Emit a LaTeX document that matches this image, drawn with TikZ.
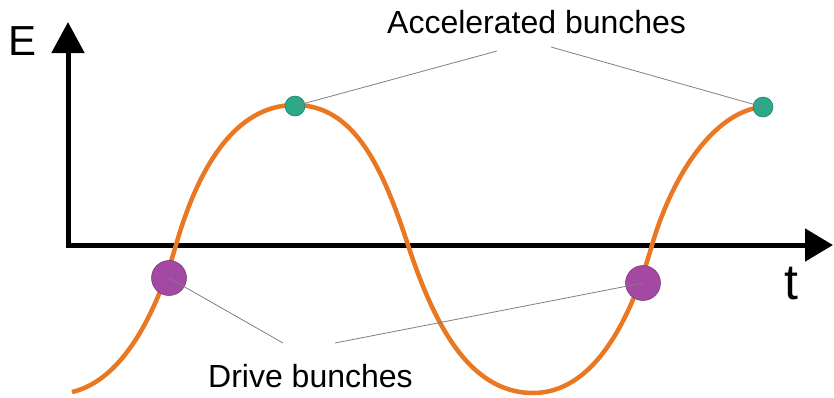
\documentclass[tikz,border=0pt]{standalone}
\usepackage{fontspec}
\setmainfont{Liberation Sans}
\usetikzlibrary{arrows.meta}
\definecolor{waveorange}{RGB}{234,119,33}
\definecolor{accgreen}{RGB}{42,170,136}
\definecolor{drivepurple}{RGB}{163,72,163}
\tikzset{
  axis/.style={line width=5pt, {Triangle[length=31pt,width=32pt]}-{Triangle[length=28pt,width=32pt]}},
  wave/.style={line width=4.5pt, draw=waveorange},
  accbunch/.style={circle, fill=accgreen, draw=accgreen!70!black, line width=0.5pt, minimum size=20pt, inner sep=0pt},
  drivebunch/.style={circle, fill=drivepurple, draw=drivepurple!70!black, line width=0.5pt, minimum size=35pt, inner sep=0pt},
  leader/.style={draw=gray, line width=0.8pt},
  lbl/.style={inner sep=0pt, anchor=base west, font=\fontsize{32}{38}\selectfont}
}
\begin{document}
\begin{tikzpicture}[x=1pt, y=-1pt]
  \useasboundingbox (0,0) rectangle (834,397);
  \coordinate (ytip) at (68,22);
  \coordinate (o) at (68,245);
  \coordinate (xtip) at (833,245);
  \draw[axis] (ytip) -- (o) -- (xtip);
  \node[lbl, font=\fontsize{42}{50}\selectfont] (E) at (8,55) {E};
  \node[lbl, font=\fontsize{50}{60}\selectfont] (t) at (784,299) {t};

  \coordinate (s) at (72,392);
  \coordinate (z1) at (176,245);
  \coordinate (p1) at (295,105);
  \coordinate (z2) at (408,245);
  \coordinate (m1) at (533,393);
  \coordinate (z3) at (652,245);
  \coordinate (e) at (762,107);
  \draw[wave] (s) .. controls (115,382) and (151,331) .. (z1)
    .. controls (198,168) and (235,105) .. (p1)
    .. controls (355,105) and (383,169) .. (z2)
    .. controls (433,321) and (468,393) .. (m1)
    .. controls (593,393) and (630,322) .. (z3)
    .. controls (673,173) and (715,112) .. (e);

  \node[drivebunch] (d1) at (169,278) {};
  \node[drivebunch] (d2) at (643,283) {};
  \node[accbunch] (a1) at (295,106) {};
  \node[accbunch] (a2) at (763,107) {};

  \node[lbl] (acc) at (387,33) {Accelerated bunches};
  \node[lbl] (drv) at (208,387) {Drive bunches};
  \coordinate (acc1) at (497,51);
  \coordinate (acc2) at (551,47);
  \coordinate (drv1) at (283,343);
  \coordinate (drv2) at (335,343);
  \draw[leader] (a1.center) -- (acc1);
  \draw[leader] (acc2) -- (a2.center);
  \draw[leader] (d1.center) -- (drv1);
  \draw[leader] (drv2) -- (d2.center);
\end{tikzpicture}
\end{document}
